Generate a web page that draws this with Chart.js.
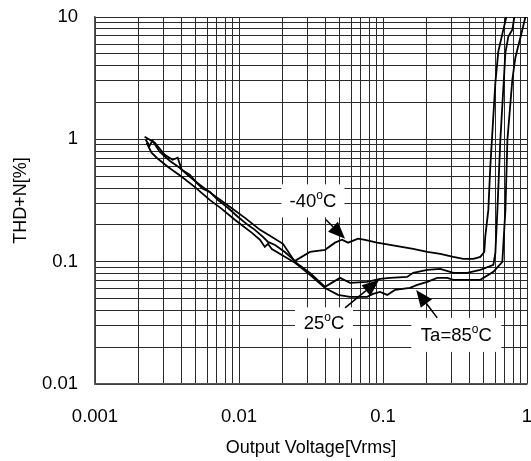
<!DOCTYPE html>
<html>
<head>
<meta charset="utf-8">
<script src="https://cdn.jsdelivr.net/npm/chart.js@4.4.1/dist/chart.umd.min.js"></script>
<style>
  html, body { margin: 0; padding: 0; background: #fff; }
</style>
</head>
<body>
<canvas id="thd" width="531" height="461"></canvas>
<script>
// values (Vrms, THD+N %)
const vM40   = [0.00221, 0.00260, 0.00305, 0.00346, 0.00375, 0.00400, 0.00455, 0.00509, 0.00560, 0.00626, 0.00712, 0.00836, 0.00981, 0.0115, 0.0129, 0.0146, 0.0159, 0.0178, 0.0208, 0.0245, 0.0311, 0.0396, 0.0464, 0.0519, 0.0572, 0.0671, 0.0751, 0.0910, 0.112, 0.162, 0.203, 0.250, 0.308, 0.361, 0.424, 0.474, 0.505, 0.513, 0.539, 0.556, 0.603, 0.632, 0.685, 0.719];
const thdM40 = [1.05, 0.938, 0.748, 0.681, 0.707, 0.564, 0.513, 0.441, 0.394, 0.372, 0.320, 0.276, 0.233, 0.200, 0.182, 0.160, 0.145, 0.137, 0.120, 0.1015, 0.120, 0.125, 0.143, 0.151, 0.143, 0.154, 0.151, 0.143, 0.137, 0.127, 0.120, 0.116, 0.1095, 0.1054, 0.1054, 0.1095, 0.120, 0.160, 0.265, 0.597, 2.90, 5.21, 7.89, 10];

const v25    = [0.00225, 0.00239, 0.00251, 0.00281, 0.00330, 0.00387, 0.00455, 0.00534, 0.00679, 0.00863, 0.0110, 0.0140, 0.0164, 0.0202, 0.0245, 0.0311, 0.0396, 0.0503, 0.0590, 0.0775, 0.0955, 0.112, 0.147, 0.162, 0.203, 0.250, 0.308, 0.385, 0.474, 0.584, 0.603, 0.623, 0.653, 0.708, 0.742, 0.791, 0.817];
const thd25  = [0.992, 0.886, 0.974, 0.792, 0.668, 0.586, 0.494, 0.425, 0.345, 0.281, 0.228, 0.182, 0.163, 0.140, 0.0996, 0.0810, 0.0622, 0.0737, 0.0671, 0.0684, 0.0723, 0.0737, 0.0751, 0.0810, 0.0857, 0.0873, 0.0810, 0.0810, 0.0857, 0.0941, 0.118, 0.265, 0.992, 5.11, 6.91, 7.89, 10];

const v85    = [0.00228, 0.00247, 0.00268, 0.00320, 0.00400, 0.00492, 0.00626, 0.00759, 0.00935, 0.0123, 0.0140, 0.0151, 0.0159, 0.0169, 0.0208, 0.0245, 0.0311, 0.0396, 0.0487, 0.0590, 0.0775, 0.0853, 0.0955, 0.107, 0.121, 0.154, 0.173, 0.203, 0.238, 0.279, 0.308, 0.474, 0.584, 0.674, 0.708, 0.731, 0.791, 0.830, 0.929, 0.975];
const thd85  = [0.938, 0.777, 0.707, 0.597, 0.494, 0.409, 0.320, 0.270, 0.220, 0.172, 0.151, 0.132, 0.140, 0.127, 0.1095, 0.0978, 0.0780, 0.0610, 0.0535, 0.0515, 0.0515, 0.0545, 0.0566, 0.0535, 0.0588, 0.0610, 0.0646, 0.0684, 0.0737, 0.0737, 0.0710, 0.0710, 0.0825, 0.0996, 0.265, 0.992, 3.07, 4.65, 7.89, 10];

const xDecades = [0.001, 0.01, 0.1, 1];
const xTickLabels = ['0.001', '0.01', '0.1', '1'];
const yDecades = [0.01, 0.1, 1, 10];
const yTickLabels = ['0.01', '0.1', '1', '10'];

// annotations: label centre and arrow tail -> tip, in data units
const noteText  = ['-40', '25', 'Ta=85'];
const noteX     = [0.0326, 0.0389, 0.323];
const noteY     = [0.314, 0.0316, 0.0252];
const arrowFrom = [[0.0402, 0.220], [0.0545, 0.0419], [0.238, 0.0347]];
const arrowTo   = [[0.0545, 0.154], [0.094, 0.071], [0.170, 0.0588]];
const noteBox   = [[63, 33], [58, 31], [90, 34]];

function pts(xs, ys) {
    return xs.map((v, i) => ({x: v, y: ys[i]}));
}

function logTicks(min, max) {
    var out = [];
    for (let e = Math.round(Math.log10(min)); e < Math.round(Math.log10(max)); e++) {
        for (let k = 1; k < 10; k++) {
            out.push({value: Number((k * Math.pow(10, e)).toPrecision(3))});
        }
    }
    out.push({value: max});
    return out;
}

function decadeLabel(v, decades, labels) {
    for (let i = 0; i < decades.length; i++) {
        if (Math.abs(Math.log10(v) - Math.log10(decades[i])) < 1e-6) return labels[i];
    }
    return '';
}

const FONT = '"Liberation Sans", Arial, sans-serif';

function degLabel(ctx, pre, cx, cy) {
    ctx.font = '18.5px ' + FONT;
    const w1 = ctx.measureText(pre).width;
    const wC = ctx.measureText('C').width;
    ctx.font = '12px ' + FONT;
    const wo = ctx.measureText('o').width;
    var x0 = cx - (w1 + wo + wC) / 2;
    var base = cy + 6.5;
    ctx.textBaseline = 'alphabetic';
    ctx.textAlign = 'left';
    ctx.fillStyle = '#000';
    ctx.font = '18.5px ' + FONT;
    ctx.fillText(pre, x0, base);
    ctx.font = '12px ' + FONT;
    ctx.fillText('o', x0 + w1, base - 8);
    ctx.font = '18.5px ' + FONT;
    ctx.fillText('C', x0 + w1 + wo, base);
}

const notes = {
    id: 'notes',
    beforeDatasetsDraw(chart) {
        const ctx = chart.ctx;
        const xs = chart.scales.x, ys = chart.scales.y;
        ctx.save();
        for (let i = 0; i < noteText.length; i++) {
            const cx = xs.getPixelForValue(noteX[i]);
            const cy = ys.getPixelForValue(noteY[i]);
            ctx.fillStyle = '#fff';
            ctx.fillRect(cx - noteBox[i][0] / 2, cy - noteBox[i][1] / 2, noteBox[i][0], noteBox[i][1]);
            degLabel(ctx, noteText[i], cx, cy);

            const x1 = xs.getPixelForValue(arrowFrom[i][0]), y1 = ys.getPixelForValue(arrowFrom[i][1]);
            const x2 = xs.getPixelForValue(arrowTo[i][0]), y2 = ys.getPixelForValue(arrowTo[i][1]);
            const a = Math.atan2(y2 - y1, x2 - x1);
            const hl = 17, hw = 7;
            const bx = x2 - hl * Math.cos(a), by = y2 - hl * Math.sin(a);
            ctx.strokeStyle = '#000';
            ctx.lineWidth = 1.5;
            ctx.beginPath();
            ctx.moveTo(x1, y1);
            ctx.lineTo(bx, by);
            ctx.stroke();
            ctx.fillStyle = '#000';
            ctx.beginPath();
            ctx.moveTo(x2, y2);
            ctx.lineTo(bx + hw * Math.sin(a), by - hw * Math.cos(a));
            ctx.lineTo(bx - hw * Math.sin(a), by + hw * Math.cos(a));
            ctx.closePath();
            ctx.fill();
        }
        ctx.restore();
    }
};

function curve(label, xs, ys) {
    return {
        label: label,
        data: pts(xs, ys),
        borderColor: '#000',
        borderWidth: 1.8,
        pointRadius: 0,
        tension: 0,
        fill: false
    };
}

new Chart(document.getElementById('thd').getContext('2d'), {
    type: 'line',
    data: {
        datasets: [
            curve('-40°C', vM40, thdM40),
            curve('25°C', v25, thd25),
            curve('Ta=85°C', v85, thd85)
        ]
    },
    options: {
        responsive: false,
        animation: false,
        layout: { padding: { top: 17, right: 4, left: 0, bottom: 0 } },
        plugins: {
            legend: { display: false },
            tooltip: { enabled: false }
        },
        scales: {
            x: {
                type: 'logarithmic',
                position: 'bottom',
                min: 0.001,
                max: 1,
                afterBuildTicks: s => { s.ticks = logTicks(0.001, 1); },
                afterFit: s => { s.height = 77; s.paddingLeft = 0; s.paddingRight = 0; },
                grid: { color: '#2a2a2a', lineWidth: 1, drawTicks: false },
                border: { color: '#555', width: 1.5 },
                ticks: {
                    autoSkip: false,
                    maxRotation: 0,
                    padding: 22,
                    color: '#000',
                    font: { family: FONT, size: 18.5 },
                    callback: v => decadeLabel(v, xDecades, xTickLabels)
                },
                title: {
                    display: true,
                    text: 'Output Voltage[Vrms]',
                    color: '#000',
                    font: { family: FONT, size: 18 },
                    padding: { top: 0, bottom: 2 }
                }
            },
            y: {
                type: 'logarithmic',
                min: 0.01,
                max: 10,
                afterBuildTicks: s => { s.ticks = logTicks(0.01, 10); },
                afterFit: s => { s.width = 95; s.paddingTop = 0; s.paddingBottom = 0; },
                grid: { color: '#2a2a2a', lineWidth: 1, drawTicks: false },
                border: { color: '#555', width: 1.5 },
                ticks: {
                    autoSkip: false,
                    padding: 17,
                    color: '#000',
                    font: { family: FONT, size: 18.5 },
                    callback: v => decadeLabel(v, yDecades, yTickLabels)
                },
                title: {
                    display: true,
                    text: 'THD+N[%]',
                    color: '#000',
                    font: { family: FONT, size: 18 },
                    padding: { top: 10, bottom: 0 }
                }
            }
        }
    },
    plugins: [notes]
});
</script>
</body>
</html>
